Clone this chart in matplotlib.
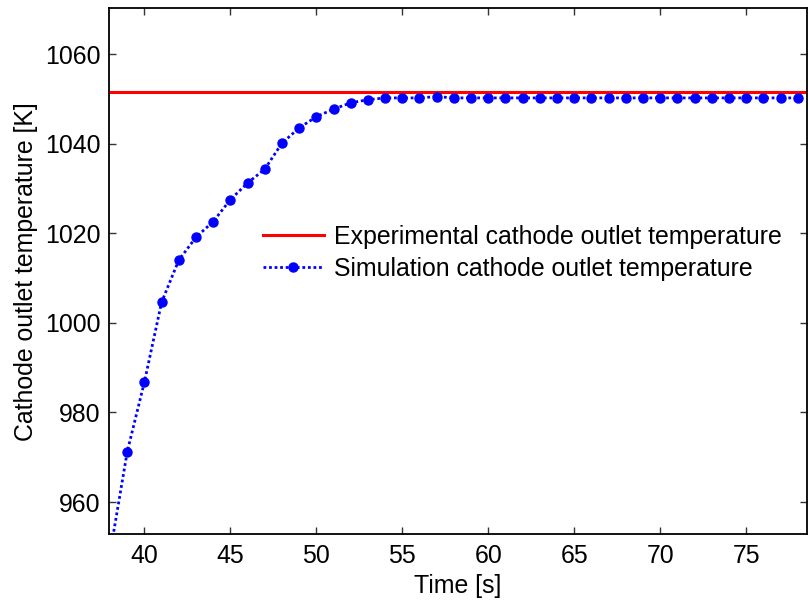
import matplotlib
matplotlib.use('Agg')
import matplotlib.pyplot as plt

time_s = [38, 39, 40, 41, 42, 43, 44, 45, 46, 47, 48, 49, 50, 51, 52, 53, 54, 55, 56, 57,
          58, 59, 60, 61, 62, 63, 64, 65, 66, 67, 68, 69, 70, 71, 72, 73, 74, 75, 76, 77, 78]
sim_temp = [948.5, 971.2, 986.8, 1004.6, 1014.0, 1019.1, 1022.6, 1027.5, 1031.2, 1034.3,
            1040.1, 1043.5, 1046.0, 1047.7, 1049.1, 1049.8, 1050.2, 1050.2, 1050.2, 1050.5,
            1050.2, 1050.2, 1050.2, 1050.2, 1050.2, 1050.2, 1050.2, 1050.2, 1050.2, 1050.2,
            1050.2, 1050.2, 1050.2, 1050.2, 1050.2, 1050.2, 1050.2, 1050.2, 1050.2, 1050.2,
            1050.2]
exp_temp = 1051.6
x_ticks = [40, 45, 50, 55, 60, 65, 70, 75]
y_ticks = [960, 980, 1000, 1020, 1040, 1060]

plt.rcParams['font.family'] = ['Liberation Sans', 'DejaVu Sans']
fs = 17.9

fig = plt.figure(figsize=(8.08, 6.01), dpi=100)
ax = fig.add_axes([109 / 808, (601 - 534.3) / 601, 698 / 808, 526 / 601])

ax.axhline(exp_temp, color='#ff0000', linewidth=2.2,
           label='Experimental cathode outlet temperature')
ax.plot(time_s, sim_temp, color='#0000ff', linewidth=2.0, dashes=(1, 1),
        marker='o', markersize=6.5, label='Simulation cathode outlet temperature')

ax.set_xlim(37.94, 78.54)
ax.set_ylim(952.8, 1070.2)
ax.set_xticks(x_ticks)
ax.set_yticks(y_ticks)
ax.tick_params(direction='in', top=True, right=True, length=5, width=1,
               labelsize=fs, color='#333333')
ax.tick_params(axis='x', pad=7)
ax.tick_params(axis='y', pad=6)
for s in ax.spines.values():
    s.set_linewidth(1.3)

ax.set_xlabel('Time [s]', fontsize=fs, labelpad=4)
ax.set_ylabel('Cathode outlet temperature [K]', fontsize=fs, labelpad=5)

ax.legend(loc='center left', bbox_to_anchor=(0.2206, 0.535), frameon=False,
          fontsize=fs, borderpad=0, borderaxespad=0, handlelength=2.45,
          handletextpad=0.42, labelspacing=0.3)

fig.savefig('out.png', dpi=100)
